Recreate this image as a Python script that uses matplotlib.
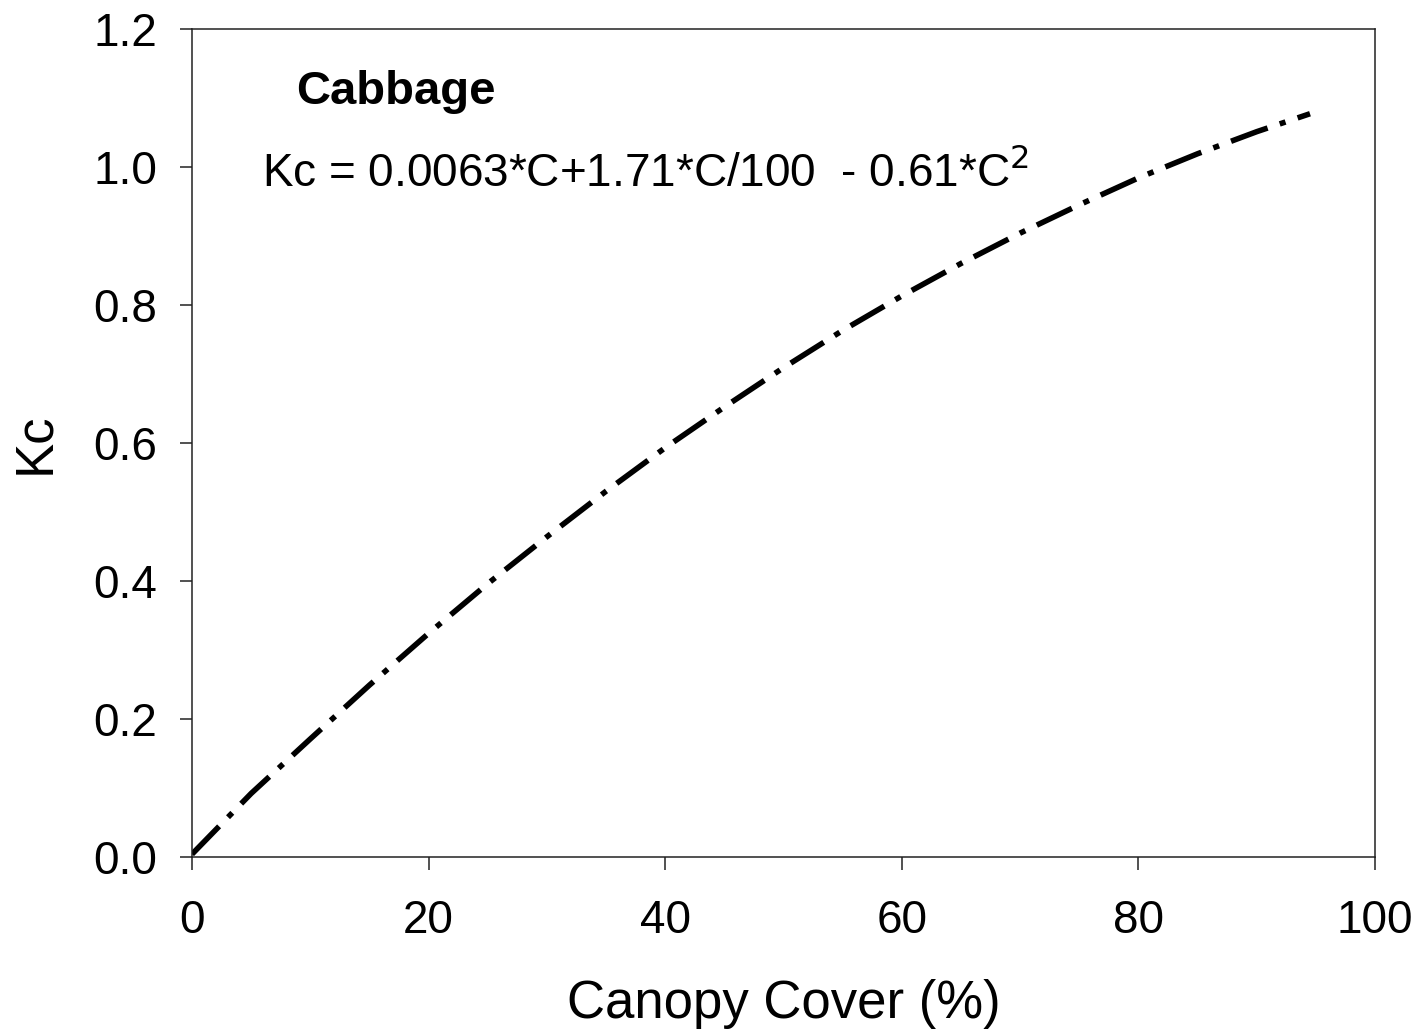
import matplotlib.pyplot as plt

plt.rcParams['font.family'] = ['Liberation Sans', 'DejaVu Sans']

# canopy cover (%) and crop coefficient
cover = [0, 5, 10, 15, 20, 25, 30, 35, 40, 45, 50, 55, 60, 65, 70, 75, 80, 85, 90, 94.5]
kc = [0.004, 0.092, 0.171, 0.249, 0.324, 0.396, 0.464, 0.530, 0.593, 0.652,
      0.709, 0.763, 0.813, 0.860, 0.904, 0.945, 0.984, 1.019, 1.051, 1.077]

x_ticks = [0, 20, 40, 60, 80, 100]
y_ticks = [0.0, 0.2, 0.4, 0.6, 0.8, 1.0, 1.2]

fig = plt.figure(figsize=(14.22, 10.30), dpi=100)
ax = fig.add_axes([0.135, 0.168, 0.832, 0.804])

ax.plot(cover, kc, color='black', linewidth=4.0, dashes=(7, 2.3, 1.1, 2.3),
        solid_capstyle='butt')

ax.set_xlim(0, 100)
ax.set_ylim(0, 1.2)
ax.set_xticks(x_ticks)
ax.set_yticks(y_ticks)
ax.set_xticklabels([str(t) for t in x_ticks])
ax.set_yticklabels(['%.1f' % t for t in y_ticks])
ax.tick_params(direction='out', length=9, width=1.1, labelsize=33, color='#222222')
ax.tick_params(axis='x', pad=21)
ax.tick_params(axis='y', pad=16)
for s in ax.spines.values():
    s.set_linewidth(1.1)
    s.set_color('#222222')

ax.set_xlabel('Canopy Cover (%)', fontsize=38, labelpad=26)
ax.set_ylabel('Kc', fontsize=38, labelpad=24)

ax.text(0.088, 0.924, 'Cabbage', transform=ax.transAxes, fontsize=34,
        fontweight='bold', ha='left', va='center')
ax.text(0.059, 0.826, r'Kc = 0.0063*C+1.71*C/100  - 0.61*C$^{2}$', transform=ax.transAxes,
        fontsize=33, ha='left', va='center')

fig.savefig('out.png', dpi=100)
